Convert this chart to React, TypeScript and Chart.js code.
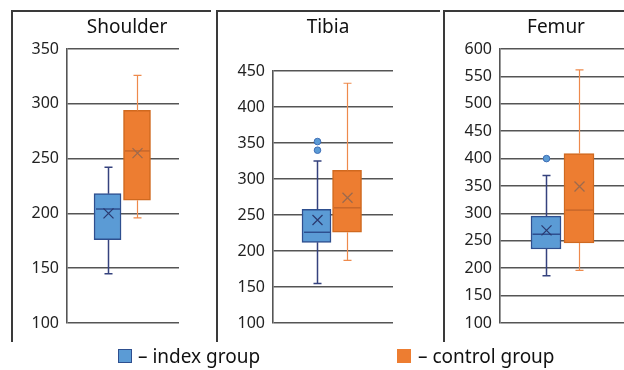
import React, { useEffect, useRef } from "react";
import { Chart, registerables } from "chart.js";

Chart.register(...registerables);

// ---- data ----
const panelTitles = ["Shoulder", "Tibia", "Femur"];
const groupNames = ["index group", "control group"];

// [index, control] per panel
const shoulderMin = [145, 196];
const shoulderQ1 = [176, 212];
const shoulderMedian = [204, 257];
const shoulderQ3 = [218, 294];
const shoulderMax = [242, 326];
const shoulderMean = [200, 255];
const shoulderOutliers: number[][] = [[], []];

const tibiaMin = [155, 187];
const tibiaQ1 = [212, 226];
const tibiaMedian = [226, 260];
const tibiaQ3 = [258, 312];
const tibiaMax = [325, 433];
const tibiaMean = [243, 274];
const tibiaOutliers: number[][] = [[340, 352], []];

const femurMin = [186, 196];
const femurQ1 = [235, 246];
const femurMedian = [262, 306];
const femurQ3 = [295, 409];
const femurMax = [369, 562];
const femurMean = [269, 349];
const femurOutliers: number[][] = [[400], []];

const shoulderTicks = [100, 350];
const tibiaTicks = [100, 450];
const femurTicks = [100, 600];

type Stats = {
  min: number[];
  q1: number[];
  median: number[];
  q3: number[];
  max: number[];
  mean: number[];
  outliers: number[][];
};

const panelStats: Stats[] = [
  { min: shoulderMin, q1: shoulderQ1, median: shoulderMedian, q3: shoulderQ3, max: shoulderMax, mean: shoulderMean, outliers: shoulderOutliers },
  { min: tibiaMin, q1: tibiaQ1, median: tibiaMedian, q3: tibiaQ3, max: tibiaMax, mean: tibiaMean, outliers: tibiaOutliers },
  { min: femurMin, q1: femurQ1, median: femurMedian, q3: femurQ3, max: femurMax, mean: femurMean, outliers: femurOutliers },
];
const panelRanges = [shoulderTicks, tibiaTicks, femurTicks];

// ---- layout / style ----
const FONT = "'Noto Sans', 'DejaVu Sans', sans-serif";
const fills = ["#5b9bd5", "#ed7d31"];
const borders = ["#2e4f8f", "#d0691f"];
const whiskerColors = ["#35427e", "#ee8a4c"];
const meanColors = ["#2b3a70", "#9c6a4e"];
const medianColors = ["#2e4f8f", "#c8672a"];

type Layout = {
  left: number;
  width: number;
  areaLeft: number;
  areaRight: number;
  areaTop: number;
  xPos: number[];
  boxW: number;
  titleX: number;
};
const layouts: Layout[] = [
  { left: 12, width: 205, areaLeft: 67, areaRight: 179, areaTop: 49, xPos: [0.362, 0.625], boxW: 27, titleX: 127 },
  { left: 217, width: 227, areaLeft: 273, areaRight: 393, areaTop: 71, xPos: [0.3625, 0.617], boxW: 29, titleX: 328 },
  { left: 444, width: 180, areaLeft: 500, areaRight: 624, areaTop: 49, xPos: [0.371, 0.637], boxW: 30, titleX: 556 },
];
const CANVAS_H = 345;
const AREA_BOTTOM = 323;

function Panel({ idx }: { idx: number }) {
  const ref = useRef<HTMLCanvasElement | null>(null);
  useEffect(() => {
    const st = panelStats[idx];
    const L = layouts[idx];
    const [ymin, ymax] = panelRanges[idx];
    const boxPlugin = {
      id: "boxExtras",
      afterDatasetsDraw(chart: any) {
        const ctx = chart.ctx;
        const xs = chart.scales.x;
        const ys = chart.scales.y;
        ctx.save();
        for (let g = 0; g < 2; g++) {
          const cx = Math.round(xs.getPixelForValue(L.xPos[g])) + 0.5;
          const half = L.boxW / 2;
          const yMin = ys.getPixelForValue(st.min[g]);
          const yMax = ys.getPixelForValue(st.max[g]);
          const yQ1 = ys.getPixelForValue(st.q1[g]);
          const yQ3 = ys.getPixelForValue(st.q3[g]);
          // whiskers
          ctx.strokeStyle = whiskerColors[g];
          ctx.lineWidth = g === 0 ? 1.5 : 1.2;
          ctx.beginPath();
          ctx.moveTo(cx, yQ3);
          ctx.lineTo(cx, yMax);
          ctx.moveTo(cx - 4, yMax);
          ctx.lineTo(cx + 4, yMax);
          ctx.moveTo(cx, yQ1);
          ctx.lineTo(cx, yMin);
          ctx.moveTo(cx - 4, yMin);
          ctx.lineTo(cx + 4, yMin);
          ctx.stroke();
          // median
          const yMed = ys.getPixelForValue(st.median[g]);
          ctx.strokeStyle = medianColors[g];
          ctx.lineWidth = 1.5;
          ctx.beginPath();
          ctx.moveTo(cx - half + 1, yMed);
          ctx.lineTo(cx + half - 1, yMed);
          ctx.stroke();
          // mean X
          const yMean = ys.getPixelForValue(st.mean[g]);
          ctx.strokeStyle = meanColors[g];
          ctx.lineWidth = 1.3;
          const s = 5;
          ctx.beginPath();
          ctx.moveTo(cx - s, yMean - s);
          ctx.lineTo(cx + s, yMean + s);
          ctx.moveTo(cx + s, yMean - s);
          ctx.lineTo(cx - s, yMean + s);
          ctx.stroke();
          // outliers
          for (const o of st.outliers[g]) {
            const yo = ys.getPixelForValue(o);
            ctx.beginPath();
            ctx.arc(cx, yo, 3.3, 0, Math.PI * 2);
            ctx.fillStyle = fills[g];
            ctx.fill();
            ctx.strokeStyle = "#3d6db5";
            ctx.lineWidth = 1;
            ctx.stroke();
          }
        }
        // title
        ctx.fillStyle = "#111";
        ctx.font = `19px ${FONT}`;
        ctx.textAlign = "center";
        ctx.textBaseline = "middle";
        ctx.fillText(panelTitles[idx], L.titleX - L.left, 28);
        ctx.restore();
      },
    };
    const chart = new Chart(ref.current as HTMLCanvasElement, {
      type: "bar",
      data: {
        datasets: [
          {
            data: [0, 1].map((g) => ({ x: L.xPos[g], y: [st.q1[g], st.q3[g]] })) as any,
            backgroundColor: fills,
            borderColor: borders,
            borderWidth: 1.5,
            borderSkipped: false,
            barThickness: L.boxW,
          },
        ],
      },
      options: {
        animation: false,
        responsive: false,
        maintainAspectRatio: false,
        layout: {
          padding: {
            left: 0,
            right: L.left + L.width - L.areaRight,
            top: L.areaTop,
            bottom: CANVAS_H - AREA_BOTTOM,
          },
        },
        plugins: { legend: { display: false }, tooltip: { enabled: false }, title: { display: false } },
        scales: {
          x: { type: "linear", min: 0, max: 1, offset: false, display: false },
          y: {
            min: ymin,
            max: ymax,
            afterFit: (scale: any) => {
              scale.width = L.areaLeft - L.left;
            },
            ticks: {
              stepSize: 50,
              color: "#222",
              padding: 8,
              font: { family: FONT, size: 16 },
            },
            grid: { color: "#555", lineWidth: 1.6, drawTicks: false },
            border: { display: true, color: "#555", width: 1.6 },
          },
        },
      },
      plugins: [boxPlugin],
    } as any);
    return () => chart.destroy();
  }, [idx]);
  const L = layouts[idx];
  return (
    <canvas
      ref={ref}
      width={L.width}
      height={CANVAS_H}
      style={{ position: "absolute", left: L.left, top: 0, width: L.width, height: CANVAS_H }}
    />
  );
}

const frameLine = "#3a3a3a";

export default function App() {
  useEffect(() => {
    document.body.style.margin = "0";
  }, []);
  return (
    <div style={{ position: "relative", width: 624, height: 370, background: "#fff", overflow: "hidden", fontFamily: FONT }}>
      {[0, 1, 2].map((i) => (
        <Panel key={i} idx={i} />
      ))}
      {/* panel frames */}
      <div style={{ position: "absolute", left: 12, top: 10, width: 199, height: 2, background: frameLine }} />
      <div style={{ position: "absolute", left: 217, top: 10, width: 223, height: 2, background: frameLine }} />
      <div style={{ position: "absolute", left: 444, top: 10, width: 180, height: 2, background: frameLine }} />
      <div style={{ position: "absolute", left: 11, top: 10, width: 2, height: 332, background: frameLine }} />
      <div style={{ position: "absolute", left: 216, top: 10, width: 2, height: 332, background: frameLine }} />
      <div style={{ position: "absolute", left: 443, top: 10, width: 2, height: 332, background: frameLine }} />
      {/* legend */}
      <div style={{ position: "absolute", left: 118, top: 349, width: 12, height: 12, background: fills[0], border: "1.5px solid #2e4f8f" }} />
      <div style={{ position: "absolute", left: 138, top: 344, fontSize: 19, lineHeight: "24px", color: "#111", whiteSpace: "nowrap" }}>
        – {groupNames[0]}
      </div>
      <div style={{ position: "absolute", left: 397, top: 349, width: 14, height: 14, background: fills[1] }} />
      <div style={{ position: "absolute", left: 418, top: 344, fontSize: 19, lineHeight: "24px", color: "#111", whiteSpace: "nowrap" }}>
        – {groupNames[1]}
      </div>
    </div>
  );
}
